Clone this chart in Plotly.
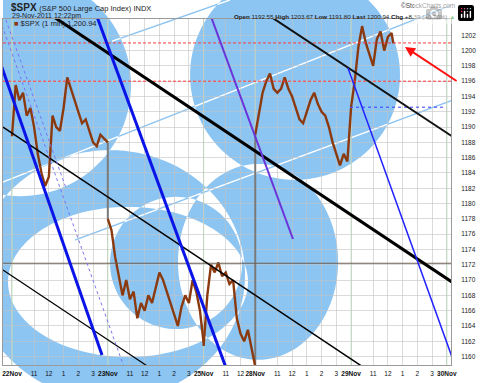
import numpy as np
import plotly.graph_objects as go

# ---------------- data ----------------
days = ["22Nov", "23Nov", "25Nov", "28Nov", "29Nov", "30Nov"]
day_start_hours = [0.0, 6.5, 13.0, 16.5, 23.0, 29.5]          # gapless trading-hour axis
day_hour_labels = [["11", "12", "1", "2", "3"], ["11", "12", "1", "2", "3"], ["11", "12"],
                   ["11", "12", "1", "2", "3"], ["11", "12", "1", "2", "3"], []]
hour_label_offsets = {"11": 1.5, "12": 2.5, "1": 3.5, "2": 4.5, "3": 5.5}

sample_step = 0.25   # 15-minute samples
spx_22nov = [1188.8, 1195.5, 1193.5, 1194.5, 1191.5, 1192.5, 1190.0, 1186.5, 1184.0, 1182.3,
             1183.5, 1191.5, 1190.0, 1189.5, 1192.5, 1196.5, 1195.0, 1193.5, 1192.0, 1190.5,
             1191.0, 1189.5, 1188.0, 1187.5, 1189.0, 1188.5, 1188.0]
spx_23nov = [1178.0, 1176.5, 1173.0, 1170.5, 1168.0, 1170.0, 1167.5, 1168.5, 1165.0, 1167.0,
             1166.0, 1168.0, 1167.0, 1169.0, 1171.0, 1170.0, 1168.5, 1167.0, 1165.5, 1164.0,
             1166.5, 1168.0, 1167.0, 1170.0, 1168.5, 1166.0, 1161.8]
spx_25nov = [1161.4, 1168.0, 1172.0, 1171.0, 1172.3, 1170.5, 1171.0, 1169.5, 1170.0, 1165.0,
             1163.0, 1162.0, 1163.5, 1161.0, 1158.7]
spx_28nov = [1189.0, 1192.0, 1194.5, 1196.0, 1197.0, 1195.0, 1194.5, 1195.0, 1196.5, 1195.0,
             1194.0, 1192.5, 1191.0, 1190.5, 1192.0, 1193.5, 1194.5, 1193.0, 1192.0, 1191.5,
             1190.0, 1188.0, 1186.5, 1185.0, 1186.5, 1185.5, 1192.5]
spx_29nov = [1192.6, 1196.0, 1200.5, 1203.2, 1201.0, 1199.5, 1198.0, 1201.5, 1202.5, 1200.0,
             1201.8, 1202.3]
last_trade_offset = 172 / 60.0      # 12:22pm
last_trade_value = 1200.94
day_series = [spx_22nov, spx_23nov, spx_25nov, spx_28nov, spx_29nov]

y_ticks = list(range(1160, 1203, 2))
red_levels = [1201.0, 1196.0]
level_1172 = 1172.2
blue_dotted_level = 1192.6
blue_dotted_span = [22.93, 29.38]

# ---------------- build traces ----------------
px_x, px_y = [], []
gap_x, gap_y = [], []
prev_last = None
for d, vals in enumerate(day_series):
    xs = [day_start_hours[d] + sample_step * i for i in range(len(vals))]
    ys = list(vals)
    if d == 4:
        xs.append(day_start_hours[d] + last_trade_offset)
        ys.append(last_trade_value)
    if prev_last is not None:
        gap_x += [day_start_hours[d], day_start_hours[d], None]
        gap_y += [prev_last, ys[0], None]
    px_x += xs + [None]
    px_y += ys + [None]
    prev_last = ys[-1]

fig = go.Figure()
fig.add_trace(go.Scatter(x=gap_x, y=gap_y, mode="lines",
                         line=dict(color="#7a7a7a", width=2), hoverinfo="skip"))
fig.add_trace(go.Scatter(x=px_x, y=px_y, mode="lines",
                         line=dict(color="#8b3a10", width=2.4), hoverinfo="skip"))

# ---------------- annotation drawings ----------------
def ellipse(ct, cy, rt, ry, n=120):
    a = np.linspace(0, 2 * np.pi, n, endpoint=False)
    xs = ct + rt * np.cos(a)
    ys = cy + ry * np.sin(a)
    return "M" + "L".join(f"{x:.4f},{y:.5f}" for x, y in zip(xs, ys)) + "Z"

def band(t0, d0, t1, d1, half=0.0022):
    return (f"M{t0:.4f},{d0 + half:.5f}L{t1:.4f},{d1 + half:.5f}"
            f"L{t1:.4f},{d1 - half:.5f}L{t0:.4f},{d0 - half:.5f}Z")

# circles: (centre hour, centre y-domain, radius hours, radius y-domain)
circles = [(0.543, 0.809, 7.53, 0.321),    # top-left
           (19.20, 0.838, 7.12, 0.303),    # top-right
           (6.65, 0.260, 9.16, 0.361),     # lower-left outer
           (7.87, 0.240, 8.14, 0.217),     # lower-left inner
           (11.13, 0.295, 4.48, 0.191),    # middle
           (16.69, 0.298, 5.43, 0.283)]    # middle-right
# light channel lines drawn XOR-style (hour, y-domain)
channel_lines = [(-0.61, 0.529, 30.80, 1.057),
                 (4.274, 0.361, 31.75, 0.795),
                 (6.78, 0.936, 14.79, 1.055)]
path = "".join(ellipse(*c) for c in circles) + "".join(band(*l) for l in channel_lines)

shapes = [dict(type="path", path=path, xref="x", yref="y domain", fillcolor="#8cc4f2",
               line=dict(width=0), fillrule="evenodd", layer="below")]
for ds in day_start_hours:
    shapes.append(dict(type="line", xref="x", yref="y domain", x0=ds, x1=ds, y0=0, y1=1,
                       line=dict(color="#bfe6bf", width=1), layer="below"))

for lv in red_levels:
    shapes.append(dict(type="line", xref="paper", yref="y", x0=0, x1=1, y0=lv, y1=lv,
                       line=dict(color="#ff3b3b", width=1, dash="3px,2px"), layer="above"))
shapes.append(dict(type="line", xref="paper", yref="y", x0=0, x1=1, y0=level_1172, y1=level_1172,
                   line=dict(color="#6b5e52", width=1.2), layer="above"))
shapes.append(dict(type="line", xref="x", yref="y", x0=blue_dotted_span[0], x1=blue_dotted_span[1],
                   y0=blue_dotted_level, y1=blue_dotted_level,
                   line=dict(color="#3a3aff", width=1, dash="dot"), layer="above"))

# trend lines: (t0, v0, t1, v1, colour, width, dash)
trend_lines = [
    (-0.61, 1208.82, 31.75, 1167.30, "#000000", 3.0, "solid"),
    (15.84, 1206.61, 31.75, 1186.38, "#111111", 2.0, "solid"),
    (-0.61, 1190.01, 24.97, 1157.15, "#000000", 1.5, "solid"),
    (-0.61, 1171.32, 10.04, 1157.66, "#000000", 1.2, "solid"),
    (-0.81, 1198.51, 6.106, 1160.21, "#0a14e6", 3.0, "solid"),
    (5.427, 1206.22, 14.79, 1157.12, "#0a14e6", 3.0, "solid"),
    (13.16, 1206.22, 19.06, 1175.37, "#6a34d8", 2.0, "solid"),
    (22.79, 1197.73, 30.53, 1156.29, "#2222ff", 1.5, "solid"),
    (-0.81, 1204.00, 7.67, 1158.25, "#7b74f2", 1.0, "dot"),
    (-0.41, 1204.00, 3.66, 1182.04, "#7b74f2", 1.0, "dot"),
]
for t0, v0, t1, v1, c, w, dsh in trend_lines:
    shapes.append(dict(type="line", xref="x", yref="y", x0=t0, y0=v0, x1=t1, y1=v1,
                       line=dict(color=c, width=w, dash=dsh), layer="above"))

# ---------------- axes ----------------
tickvals, ticktext = [], []
for d, name in enumerate(days):
    tickvals.append(day_start_hours[d])
    ticktext.append(f"<b>{name}</b>")
    for lab in day_hour_labels[d]:
        tickvals.append(day_start_hours[d] + hour_label_offsets[lab])
        ticktext.append(lab)

font_fam = "Liberation Sans, Arial, sans-serif"
grid_col = "rgba(195,195,195,0.6)"
fig.update_layout(
    width=480, height=383,
    margin=dict(l=3, r=29, t=19, b=18),
    paper_bgcolor="white", plot_bgcolor="rgba(0,0,0,0)",
    showlegend=False,
    font=dict(family=font_fam, size=7, color="#222"),
    xaxis=dict(range=[-0.61, 29.78], tickvals=tickvals, ticktext=ticktext, tickangle=0,
               showgrid=True, gridcolor=grid_col, gridwidth=1, zeroline=False,
               showline=True, linecolor="#9a9a9a", mirror=True,
               ticks="outside", ticklen=2, tickcolor="rgba(0,0,0,0)",
               tickfont=dict(size=6.5, color="#111"), fixedrange=True, automargin=False),
    yaxis=dict(range=[1158.9, 1204.13], side="right", tickvals=y_ticks,
               showgrid=True, gridcolor=grid_col, gridwidth=1, zeroline=False,
               showline=True, linecolor="#9a9a9a", mirror=True,
               ticks="outside", ticklen=8, tickcolor="rgba(0,0,0,0)",
               tickfont=dict(size=6.5, color="#222"), fixedrange=True, automargin=False),
    shapes=shapes,
)

ann = [
    dict(text="<b>$SPX</b> <span style='font-size:7.5px'>(S&P 500 Large Cap Index) INDX</span>",
         x=0, y=1, xref="paper", yref="paper", xanchor="left", yanchor="middle",
         xshift=6, yshift=12, showarrow=False, font=dict(size=10, color="#222")),
    dict(text="29-Nov-2011 12:22pm", x=0, y=1, xref="paper", yref="paper",
         xanchor="left", yanchor="middle", xshift=7, yshift=3.5, showarrow=False,
         font=dict(size=7, color="#222")),
    dict(text="<span style='color:#8b3a10'>■</span> $SPX (1 min) 1,200.94", x=0, y=1,
         xref="paper", yref="paper", xanchor="left", yanchor="middle", xshift=9, yshift=-4.5,
         showarrow=False, font=dict(size=7.5, color="#222")),
    dict(text="©StockCharts.com", x=1, y=1, xref="paper", yref="paper", xanchor="right",
         yanchor="middle", xshift=6, yshift=13.5, showarrow=False, font=dict(size=6.5, color="#444")),
    dict(text="<b>Open</b> 1192.55 <b>High</b> 1203.67 <b>Low</b> 1191.80 <b>Last</b> 1200.94 "
              "<b>Chg</b> +8.39 (+0.70%) <span style='color:#2a9a2a'>▲</span>",
         x=1, y=1, xref="paper", yref="paper", xanchor="right", yanchor="middle",
         xshift=6, yshift=3, showarrow=False, font=dict(size=6.2, color="#222")),
    dict(x=26.66, y=1200.47, ax=30.26, ay=1195.9, xref="x", yref="y", axref="x", ayref="y",
         text="", showarrow=True, arrowhead=2, arrowsize=1, arrowwidth=2, arrowcolor="#ff1010"),
]
fig.update_layout(annotations=ann)

fig.write_html("out.html", post_script="document.body.style.margin='0px';")
